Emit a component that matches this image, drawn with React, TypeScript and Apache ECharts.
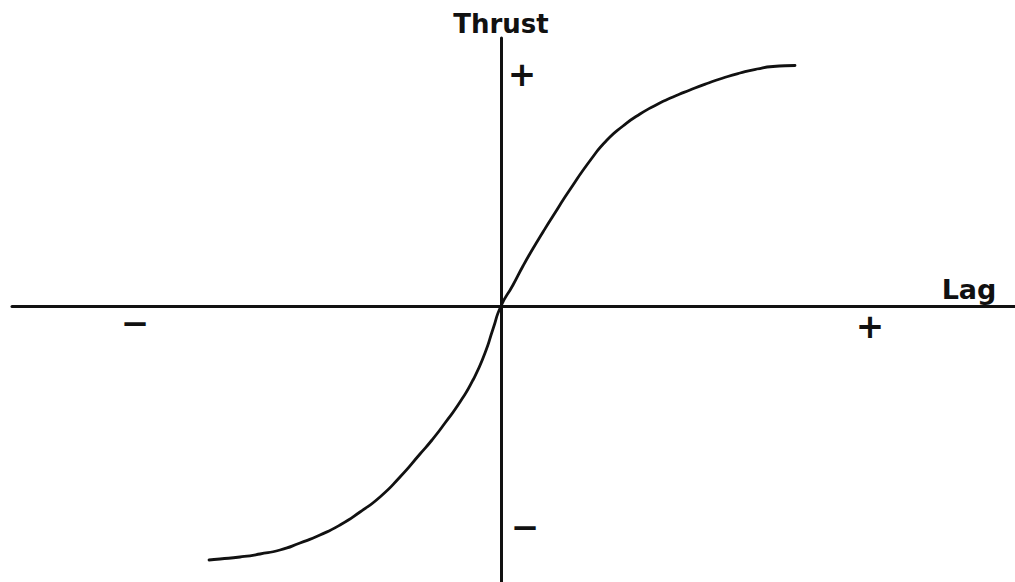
import React, { useEffect, useRef } from "react";
import * as echarts from "echarts";

// Lag (x) vs Thrust (y), abstract units (no scale shown)
const lagValues = [
  -5.84, -5.62, -5.22, -4.82, -4.42, -4.02, -3.62, -3.22, -2.82, -2.42, -2.02, -1.62, -1.38, -1.12, -0.82, -0.56, -0.32, -0.16, 0,
  0.24, 0.44, 0.64, 0.84, 1.04, 1.36, 1.82, 2.12, 2.44, 2.78, 3.12, 3.44, 3.78, 4.12, 4.44, 4.78, 5.12, 5.44, 5.88,
];
const thrustValues = [
  -5.08, -5.06, -5.02, -4.96, -4.88, -4.74, -4.58, -4.38, -4.12, -3.82, -3.42, -2.96, -2.68, -2.34, -1.92, -1.48, -0.94, -0.46, 0,
  0.42, 0.8, 1.15, 1.48, 1.8, 2.3, 2.96, 3.32, 3.6, 3.84, 4.03, 4.18, 4.32, 4.45, 4.56, 4.66, 4.74, 4.79, 4.81,
];

const xRange = [-9.78, 10.28];
const yRange = [-5.52, 5.36];

const axisTitles = { x: "Lag", y: "Thrust" };
const signLabels = { pos: "+", neg: "\u2212" };

export default function App() {
  const ref = useRef<HTMLDivElement>(null);
  useEffect(() => {
    if (!ref.current) return;
    const chart = echarts.init(ref.current, undefined, { renderer: "svg" });
    const ink = "#111111";
    const font = "DejaVu Sans";
    const txt = (text: string, x: number, y: number, size: number) => ({
      type: "text",
      x,
      y,
      style: {
        text,
        fill: ink,
        font: `bold ${size}px "${font}"`,
        textAlign: "center",
        textVerticalAlign: "middle",
      },
    });
    chart.setOption({
      animation: false,
      backgroundColor: "#ffffff",
      grid: { left: 12, right: 0, top: 38, bottom: 0, containLabel: false },
      xAxis: {
        type: "value",
        min: xRange[0],
        max: xRange[1],
        axisLine: { onZero: true, lineStyle: { color: ink, width: 3, cap: "round" } },
        axisTick: { show: false },
        axisLabel: { show: false },
        splitLine: { show: false },
      },
      yAxis: {
        type: "value",
        min: yRange[0],
        max: yRange[1],
        axisLine: { onZero: true, lineStyle: { color: ink, width: 3 } },
        axisTick: { show: false },
        axisLabel: { show: false },
        splitLine: { show: false },
      },
      series: [
        {
          type: "line",
          data: lagValues.map((x, i) => [x, thrustValues[i]]),
          smooth: 0.6,
          showSymbol: false,
          symbol: "none",
          lineStyle: { color: ink, width: 2.8, cap: "round" },
        },
      ],
      graphic: [
        txt(axisTitles.y, 501, 24, 26),
        txt(axisTitles.x, 969, 289, 27),
        txt(signLabels.pos, 522, 74, 34),
        txt(signLabels.pos, 870, 326, 34),
        txt(signLabels.neg, 135, 323, 34),
        txt(signLabels.neg, 525, 527, 34),
      ],
    });
    return () => chart.dispose();
  }, []);
  return (
    <div
      ref={ref}
      style={{ position: "fixed", left: 0, top: 0, width: 1015, height: 582, background: "#fff" }}
    />
  );
}
